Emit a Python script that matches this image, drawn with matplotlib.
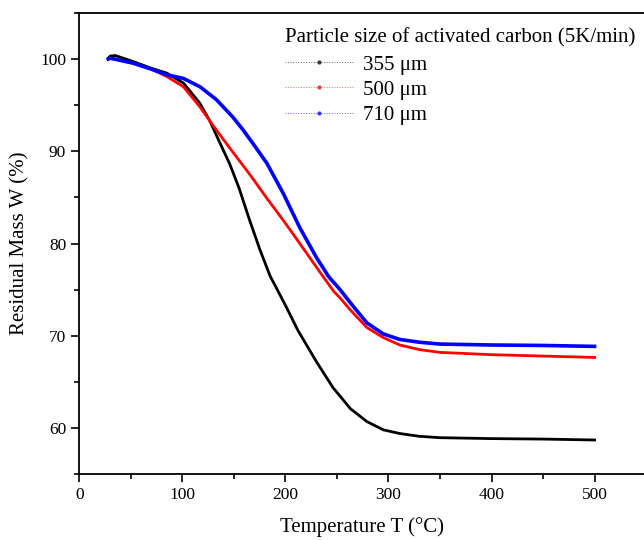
import matplotlib
matplotlib.use("Agg")
import matplotlib.pyplot as plt
from matplotlib.lines import Line2D
from matplotlib.ticker import MultipleLocator

T_355 = [28, 30, 35, 52, 70, 85, 101, 117, 127, 136, 146, 155, 165, 175, 185, 200, 212, 230, 246, 263, 279, 295, 311, 330, 350, 400, 450, 500]
W_355 = [100.1, 100.33, 100.38, 99.74, 99.0, 98.47, 97.4, 95.2, 93.2, 91.0, 88.6, 86.0, 82.6, 79.4, 76.5, 73.3, 70.6, 67.2, 64.4, 62.1, 60.7, 59.8, 59.4, 59.1, 58.95, 58.85, 58.8, 58.7]

T_500 = [28, 30, 52, 70, 85, 101, 117, 133, 149, 166, 182, 198, 214, 224, 236, 247, 253, 263, 279, 295, 311, 330, 350, 400, 450, 500]
W_500 = [100.0, 100.1, 99.56, 98.9, 98.1, 97.0, 94.8, 92.3, 89.9, 87.4, 84.9, 82.5, 80.0, 78.4, 76.5, 74.8, 74.1, 72.8, 70.9, 69.8, 69.0, 68.5, 68.2, 67.95, 67.8, 67.65]

T_710 = [28, 30, 52, 70, 85, 101, 117, 133, 149, 159, 170, 182, 198, 214, 230, 242, 253, 265, 279, 295, 311, 330, 350, 400, 450, 500]
W_710 = [100.0, 100.1, 99.56, 98.9, 98.3, 97.9, 97.0, 95.6, 93.7, 92.3, 90.6, 88.7, 85.4, 81.7, 78.5, 76.4, 75.0, 73.3, 71.4, 70.2, 69.6, 69.3, 69.1, 69.0, 68.95, 68.85]

labels = ["355 μm", "500 μm", "710 μm"]
colors = ["black", "red", "blue"]
legend_title = "Particle size of activated carbon (5K/min)"

plt.rcParams['font.family'] = ['Liberation Serif', 'DejaVu Serif']

fig = plt.figure(figsize=(6.44, 5.4), dpi=100)
ax = fig.add_axes([0.1233, 0.122, 1.0 - 0.1233, 0.854])

ax.plot(T_355, W_355, color=colors[0], lw=2.0, solid_joinstyle='round')
ax.plot(T_500, W_500, color=colors[1], lw=2.0, solid_joinstyle='round')
ax.plot(T_710, W_710, color=colors[2], lw=2.6, solid_joinstyle='round')

ax.set_xlim(0, 548)
ax.set_ylim(55, 105)
ax.xaxis.set_major_locator(MultipleLocator(100))
ax.xaxis.set_minor_locator(MultipleLocator(50))
ax.yaxis.set_major_locator(MultipleLocator(10))
ax.yaxis.set_minor_locator(MultipleLocator(5))
ax.tick_params(which='major', direction='out', length=6, width=1.2, labelsize=12.5)
ax.tick_params(which='minor', direction='out', length=3.5, width=1.2)
for s in ['left', 'bottom', 'top']:
    ax.spines[s].set_linewidth(1.3)
ax.spines['right'].set_visible(False)
ax.tick_params(top=False, right=False)

ax.set_xlabel("Temperature T (°C)", fontsize=15, labelpad=10)
ax.set_ylabel("Residual Mass W (%)", fontsize=15, labelpad=8)

fig.text(285 / 644, 1 - 38 / 540, legend_title, fontsize=15, ha='left', va='center')

handles = [Line2D([], [], color=c, ls=':', lw=0.7, alpha=0.6, marker='o', ms=2.2,
                  markerfacecolor=c, markeredgecolor=c) for c in colors]
leg = ax.legend(handles, labels, loc='upper left',
                bbox_to_anchor=(0.442, 1 - 55 / 540), bbox_transform=fig.transFigure,
                frameon=False, fontsize=15,
                handlelength=3.3, handletextpad=0.45, labelspacing=0.27,
                borderaxespad=0, borderpad=0, numpoints=1)

fig.savefig("out.png", dpi=100)
